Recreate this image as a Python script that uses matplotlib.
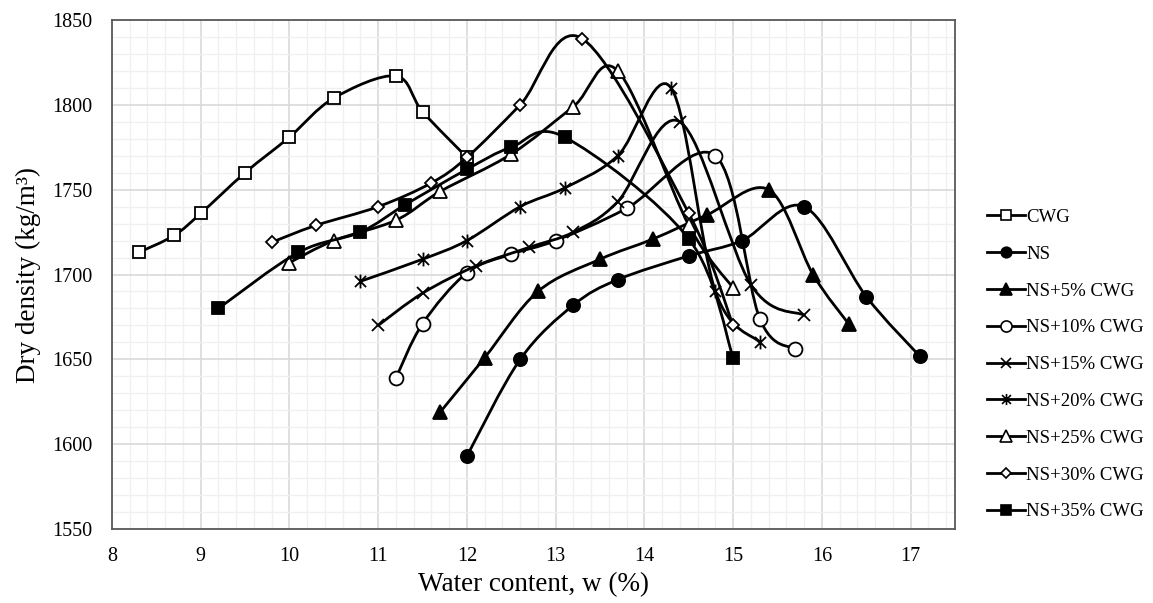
import matplotlib
matplotlib.use("Agg")
import matplotlib.pyplot as plt
from matplotlib.path import Path
from matplotlib.patches import PathPatch
from matplotlib.lines import Line2D
from matplotlib.ticker import MultipleLocator

plt.rcParams['font.family'] = ['Liberation Serif', 'DejaVu Serif']

# water content (%) and dry density (kg/m3)
cwg_x = [8.3, 8.7, 9.0, 9.5, 10.0, 10.5, 11.2, 11.5, 12.0]
cwg_y = [1713, 1723, 1736, 1760, 1781, 1804, 1817, 1796, 1769]

ns_x = [12.0, 12.6, 13.2, 13.7, 14.5, 15.1, 15.8, 16.5, 17.1]
ns_y = [1593, 1650, 1682, 1697, 1711, 1720, 1740, 1687, 1652]

ns5_x = [11.7, 12.2, 12.8, 13.5, 14.1, 14.7, 15.4, 15.9, 16.3]
ns5_y = [1619, 1651, 1690, 1709, 1721, 1735, 1750, 1700, 1671]

ns10_x = [11.2, 11.5, 12.0, 12.5, 13.0, 13.8, 14.8, 15.3, 15.7]
ns10_y = [1639, 1671, 1701, 1712, 1720, 1739, 1770, 1674, 1656]

ns15_x = [11.0, 11.5, 12.1, 12.7, 13.2, 13.7, 14.4, 15.2, 15.8]
ns15_y = [1670, 1689, 1705, 1716, 1725, 1743, 1790, 1694, 1676]

ns20_x = [10.8, 11.5, 12.0, 12.6, 13.1, 13.7, 14.3, 14.8, 15.3]
ns20_y = [1696, 1709, 1720, 1740, 1751, 1770, 1810, 1690, 1660]

ns25_x = [10.0, 10.5, 11.2, 11.7, 12.5, 13.2, 13.7, 14.5, 15.0]
ns25_y = [1707, 1720, 1732, 1749, 1771, 1799, 1820, 1729, 1692]

ns30_x = [9.8, 10.3, 11.0, 11.6, 12.0, 12.6, 13.3, 14.5, 15.0]
ns30_y = [1719, 1729, 1740, 1754, 1769, 1800, 1839, 1736, 1670]

ns35_x = [9.2, 10.1, 10.8, 11.3, 12.0, 12.5, 13.1, 14.5, 15.0]
ns35_y = [1680, 1713, 1725, 1741, 1762, 1775, 1781, 1721, 1651]

labels = ['CWG', 'NS', 'NS+5% CWG', 'NS+10% CWG', 'NS+15% CWG',
          'NS+20% CWG', 'NS+25% CWG', 'NS+30% CWG', 'NS+35% CWG']

# asterisk marker: an x with a vertical bar
star = Path([(-1, -1), (1, 1), (-1, 1), (1, -1), (0, -1.25), (0, 1.25)],
            [Path.MOVETO, Path.LINETO, Path.MOVETO, Path.LINETO, Path.MOVETO, Path.LINETO])

styles = [
    dict(marker='s', mfc='white', ms=8.5),
    dict(marker='o', mfc='black', ms=9.5),
    dict(marker='^', mfc='black', ms=10),
    dict(marker='o', mfc='white', ms=10),
    dict(marker='x', mfc='none', ms=9),
    dict(marker=star, mfc='none', ms=10),
    dict(marker='^', mfc='white', ms=10),
    dict(marker='D', mfc='white', ms=6.5),
    dict(marker='s', mfc='black', ms=8.5),
]

series = [(cwg_x, cwg_y), (ns_x, ns_y), (ns5_x, ns5_y), (ns10_x, ns10_y),
          (ns15_x, ns15_y), (ns20_x, ns20_y), (ns25_x, ns25_y),
          (ns30_x, ns30_y), (ns35_x, ns35_y)]


def smooth_path(xs, ys):
    # excel-like smoothed line (cubic bezier through the points)
    pts = list(zip(xs, ys))
    n = len(pts)
    verts = [pts[0]]
    codes = [Path.MOVETO]
    for i in range(n - 1):
        p0 = pts[i - 1] if i > 0 else pts[i]
        p1 = pts[i]
        p2 = pts[i + 1]
        p3 = pts[i + 2] if i + 2 < n else pts[i + 1]
        c1 = (p1[0] + (p2[0] - p0[0]) / 6, p1[1] + (p2[1] - p0[1]) / 6)
        c2 = (p2[0] - (p3[0] - p1[0]) / 6, p2[1] - (p3[1] - p1[1]) / 6)
        verts += [c1, c2, p2]
        codes += [Path.CURVE4] * 3
    return Path(verts, codes)


fig = plt.figure(figsize=(11.53, 6.03), dpi=100)
ax = fig.add_axes([0.0971, 0.1227, 0.7312, 0.8441])

handles = []
for k, ((xs, ys), st) in enumerate(zip(series, styles)):
    ax.add_patch(PathPatch(smooth_path(xs, ys), fill=False, edgecolor='black',
                           lw=2.0, zorder=3 + k * 0.1, capstyle='round'))
    ax.plot(xs, ys, linestyle='none', marker=st['marker'], ms=st['ms'],
            mfc=st['mfc'], mec='black', mew=1.3, zorder=3.05 + k * 0.1)
    handles.append(Line2D([], [], color='black', lw=2.0, marker=st['marker'],
                          ms=st['ms'] * 0.8, mfc=st['mfc'], mec='black', mew=1.2))

ax.set_xlim(8, 17.5)
ax.set_ylim(1550, 1850)
ax.set_xticks(range(8, 18))
ax.set_yticks(range(1550, 1851, 50))
ax.xaxis.set_minor_locator(MultipleLocator(0.2))
ax.yaxis.set_minor_locator(MultipleLocator(10))
ax.grid(which='major', color='#d9d9d9', lw=1.2, zorder=0)
ax.grid(which='minor', color='#f0f0f0', lw=1.0, zorder=0)
ax.set_axisbelow(True)
ax.tick_params(which='both', length=0, labelsize=14.5)
ax.tick_params(axis='y', pad=14)
ax.tick_params(axis='x', pad=13)
for s in ax.spines.values():
    s.set_color('#595959')
    s.set_linewidth(1.3)

ax.set_xlabel('Water content, w (%)', fontsize=19.5, labelpad=4)
ax.set_ylabel('Dry density (kg/m³)', fontsize=19.5, labelpad=8)

ax.legend(handles, labels, loc='center left', bbox_to_anchor=(1.038, 0.323),
          frameon=False, fontsize=13.5, handlelength=2.0, handletextpad=0.1,
          labelspacing=1.05, borderpad=0, borderaxespad=0)

fig.savefig('out.png', dpi=100)
